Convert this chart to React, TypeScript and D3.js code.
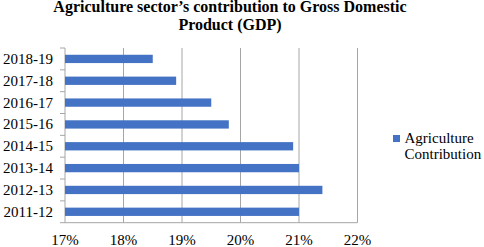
import React from "react";
import * as d3 from "d3";

const categories = ["2011-12", "2012-13", "2013-14", "2014-15", "2015-16", "2016-17", "2017-18", "2018-19"];
const values = [21.0, 21.4, 21.0, 20.9, 19.8, 19.5, 18.9, 18.5];
const xTicks = [17, 18, 19, 20, 21, 22];
const titleLines = ["Agriculture sector\u2019s contribution to Gross Domestic", "Product (GDP)"];
const legendLines = ["Agriculture", "Contribution"];

const W = 484, H = 247;
const font = "Liberation Serif";

export default function App() {
  const left = 65, right = 357.5, top = 48, bottom = 222.7;
  const x = d3.scaleLinear().domain([17, 22]).range([left, right]);
  const y = d3.scaleBand<string>().domain([...categories].reverse()).range([top, bottom]).paddingInner(0.62).paddingOuter(0.31);
  const yb = d3.scaleBand<string>().domain([...categories].reverse()).range([top, bottom]);
  const boundaries = [top, ...categories.map((c) => (yb(c) as number) + yb.bandwidth())];
  return (
    <svg width={W} height={H} style={{ position: "absolute", left: 0, top: 0, background: "#fff" }}>
      <rect width={W} height={H} fill="#fff" />
      {titleLines.map((t, i) => (
        <text key={t} x={230} y={12 + i * 17.5} textAnchor="middle" fontFamily={font} fontWeight="bold" fontSize={16}>{t}</text>
      ))}
      {xTicks.map((t) => (
        <line key={t} x1={x(t)} x2={x(t)} y1={top} y2={bottom} stroke="#a6a6a6" strokeWidth={1} />
      ))}
      <line x1={left} x2={right} y1={bottom} y2={bottom} stroke="#a6a6a6" />
      {boundaries.map((b, i) => (
        <line key={i} x1={left - 5} x2={left} y1={b} y2={b} stroke="#a6a6a6" />
      ))}
      {categories.map((c, i) => (
        <rect key={c} x={x(17)} y={y(c)} width={x(values[i]) - x(17)} height={y.bandwidth()} fill="#4472C4" />
      ))}
      {categories.map((c) => (
        <text key={c} x={53} y={(y(c) as number) + y.bandwidth() / 2 + 5} textAnchor="end" fontFamily={font} fontSize={15}>{c}</text>
      ))}
      {xTicks.map((t) => (
        <text key={t} x={x(t)} y={245} textAnchor="middle" fontFamily={font} fontSize={15}>{t}%</text>
      ))}
      <rect x={393} y={135} width={7} height={7} fill="#4472C4" />
      {legendLines.map((l, i) => (
        <text key={l} x={404.5} y={142.5 + i * 16.5} fontFamily={font} fontSize={15}>{l}</text>
      ))}
    </svg>
  );
}
